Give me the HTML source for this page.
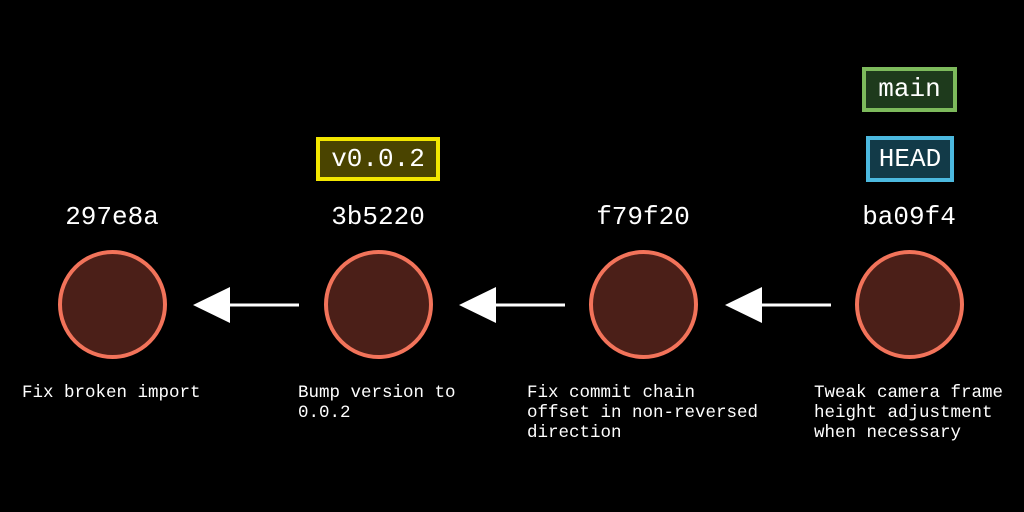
<!DOCTYPE html>
<html><head><style>
html,body{margin:0;padding:0;background:#000;width:1024px;height:512px;overflow:hidden}
body{position:relative;font-family:"Liberation Mono","Courier New",monospace;color:#fff}
.h{position:absolute;font-size:26px;top:201px;width:160px;text-align:center;line-height:32px}
.c{position:absolute;top:250px;width:101px;height:101px;border:4px solid #f2735a;border-radius:50%;background:#4b1f18}
.d{position:absolute;top:383px;font-size:17.5px;line-height:20px;white-space:pre}
.t{position:absolute;box-sizing:border-box;border:4px solid;font-size:26px;text-align:center}
</style></head><body>
<svg width="1024" height="512" style="position:absolute;left:0;top:0">
<g fill="#fff" stroke="#fff">
<line x1="228" y1="305" x2="299" y2="305" stroke-width="3"/><polygon points="193,305 230,287 230,323" stroke="none"/>
<line x1="494" y1="305" x2="565" y2="305" stroke-width="3"/><polygon points="459,305 496,287 496,323" stroke="none"/>
<line x1="760" y1="305" x2="831" y2="305" stroke-width="3"/><polygon points="725,305 762,287 762,323" stroke="none"/>
</g></svg>
<div class="h" style="left:32px">297e8a</div>
<div class="h" style="left:298px">3b5220</div>
<div class="h" style="left:563px">f79f20</div>
<div class="h" style="left:829px">ba09f4</div>
<div class="c" style="left:58px"></div>
<div class="c" style="left:324px"></div>
<div class="c" style="left:589px"></div>
<div class="c" style="left:855px"></div>
<div class="d" style="left:22px">Fix broken import</div>
<div class="d" style="left:298px">Bump version to
0.0.2</div>
<div class="d" style="left:527px">Fix commit chain
offset in non-reversed
direction</div>
<div class="d" style="left:814px">Tweak camera frame
height adjustment
when necessary</div>
<div class="t" style="left:316px;top:137px;width:124px;height:44px;line-height:36px;border-color:#f2e600;background:#4a4400">v0.0.2</div>
<div class="t" style="left:862px;top:67px;width:95px;height:45px;line-height:37px;border-color:#7dba5c;background:#1e3a1c">main</div>
<div class="t" style="left:866px;top:136px;width:88px;height:46px;line-height:38px;border-color:#4cb9df;background:#123a48">HEAD</div>
</body></html>
